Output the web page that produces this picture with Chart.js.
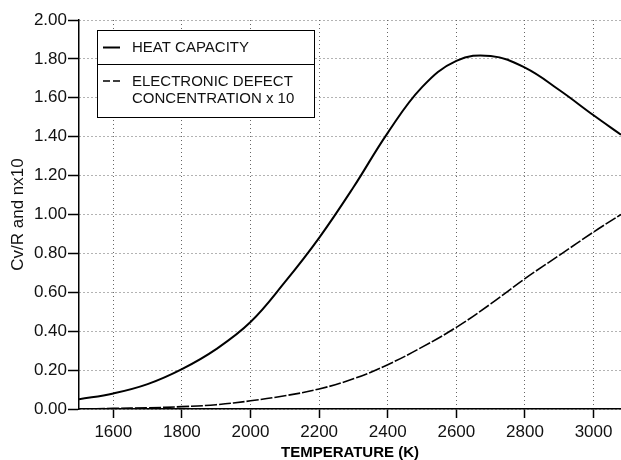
<!DOCTYPE html>
<html><head><meta charset="utf-8">
<script src="https://cdn.jsdelivr.net/npm/chart.js@4"></script>
<style>html,body{margin:0;padding:0;background:#fff}canvas{display:block}</style>
</head><body>
<canvas id="c" width="621" height="460"></canvas>
<script>
const temperatures = [1500,1600,1700,1800,1900,2000,2100,2200,2300,2400,2500,2600,2700,2800,2900,3000,3080];
const heatCapacity = [0.05,0.08,0.128,0.205,0.308,0.447,0.652,0.88,1.14,1.42,1.655,1.79,1.815,1.755,1.64,1.51,1.41];
const defectConcentrationX10 = [0.0,0.003,0.006,0.012,0.022,0.042,0.068,0.103,0.155,0.228,0.318,0.42,0.54,0.67,0.79,0.91,1.00];
const xTickValues = [1600,1800,2000,2200,2400,2600,2800,3000];
const yTickValues = [0,0.2,0.4,0.6,0.8,1.0,1.2,1.4,1.6,1.8,2.0];
const seriesNames = ["HEAT CAPACITY", "ELECTRONIC DEFECT\nCONCENTRATION x 10"];
const xTitle = "TEMPERATURE (K)";
const yTitle = "Cv/R and nx10";

const FONT = '"Liberation Sans", Arial, sans-serif';

const toPts = vals => temperatures.map((t, i) => ({x: t, y: vals[i]}));

const legendPlugin = {
  id: 'boxLegend',
  afterDraw(chart) {
    const ctx = chart.ctx;
    const x0 = 97, y0 = 30, x1 = 314, y1 = 117, yd = 64;
    ctx.save();
    ctx.fillStyle = '#fff';
    ctx.fillRect(x0, y0, x1 - x0, y1 - y0);
    ctx.strokeStyle = '#000';
    ctx.lineWidth = 1;
    ctx.strokeRect(x0 + 0.5, y0 + 0.5, x1 - x0, y1 - y0);
    ctx.beginPath(); ctx.moveTo(x0, yd + 0.5); ctx.lineTo(x1, yd + 0.5); ctx.stroke();
    ctx.lineWidth = 2;
    ctx.beginPath(); ctx.moveTo(103, 47.5); ctx.lineTo(120, 47.5); ctx.stroke();
    ctx.lineWidth = 1.5;
    ctx.setLineDash([7, 3]);
    ctx.beginPath(); ctx.moveTo(103, 81); ctx.lineTo(120, 81); ctx.stroke();
    ctx.setLineDash([]);
    ctx.fillStyle = '#111';
    ctx.font = '15px ' + FONT;
    ctx.textBaseline = 'middle';
    ctx.textAlign = 'left';
    ctx.fillText(seriesNames[0], 132, 48);
    const lines = seriesNames[1].split('\n');
    ctx.fillText(lines[0], 132, 82);
    ctx.fillText(lines[1], 132, 98.5);
    ctx.restore();
  }
};

new Chart(document.getElementById('c'), {
  type: 'line',
  data: {
    datasets: [
      {label: seriesNames[0], data: toPts(heatCapacity), borderColor: '#000', borderWidth: 2,
       pointRadius: 0, tension: 0.4, fill: false},
      {label: seriesNames[1], data: toPts(defectConcentrationX10), borderColor: '#000', borderWidth: 1.6,
       borderDash: [12, 2], pointRadius: 0, tension: 0.4, fill: false}
    ]
  },
  options: {
    responsive: false,
    animation: false,
    events: [],
    layout: {padding: {top: 20, right: 0, left: 0, bottom: 0}},
    plugins: {legend: {display: false}, tooltip: {enabled: false}},
    scales: {
      x: {
        type: 'linear', min: 1500, max: 3080,
        afterBuildTicks: s => { s.ticks = xTickValues.map(v => ({value: v})); },
        afterFit: s => { s.height = 51; },
        grid: {color: '#666', lineWidth: 1, tickColor: '#000', tickLength: 9, tickWidth: 1.5},
        border: {display: true, color: '#000', width: 1.5, dash: [1, 3]},
        ticks: {color: '#111', font: {family: FONT, size: 17}, padding: 4, maxRotation: 0,
                callback: v => String(v)},
        title: {display: true, text: xTitle, color: '#000', font: {family: FONT, size: 15, weight: 'bold', lineHeight: 1},
                padding: {top: 0, bottom: 0}}
      },
      y: {
        type: 'linear', min: 0, max: 2,
        afterBuildTicks: s => { s.ticks = yTickValues.map(v => ({value: v})); },
        afterFit: s => { s.width = 79; },
        grid: {color: '#666', lineWidth: 1, tickColor: '#000', tickLength: 11, tickWidth: 1.5},
        border: {display: true, color: '#000', width: 1.5, dash: [1, 3]},
        ticks: {color: '#111', font: {family: FONT, size: 17}, padding: 1,
                callback: v => Number(v).toFixed(2)},
        title: {display: true, text: yTitle, color: '#111', font: {family: FONT, size: 17, lineHeight: 1},
                padding: {top: 10, bottom: 0}}
      }
    }
  },
  plugins: [legendPlugin]
});
</script>
</body></html>
